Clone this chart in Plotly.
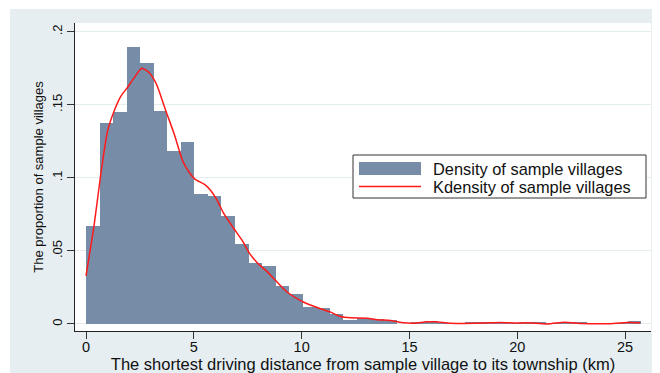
import plotly.graph_objects as go

# ---- data ----
bin_start = 0.0
bin_width = 0.628
density = [0.0669, 0.1376, 0.1452, 0.1895, 0.1788, 0.1460, 0.1183, 0.1246,
           0.0893, 0.0879, 0.0737, 0.0550, 0.0415, 0.0400, 0.0263, 0.0206,
           0.0115, 0.0108, 0.0065, 0.0029, 0.0042, 0.0031, 0.0030, 0.0,
           0.0008, 0.0020, 0.0005, 0.0005, 0.0008, 0.0012, 0.0015, 0.0005,
           0.0015, 0.0010, 0.0003, 0.0015, 0.0012, 0.0003, 0.0003, 0.0005,
           0.0018]

kde_x = [0.0, 0.38, 0.69, 1.0, 1.31, 1.62, 1.93, 2.24, 2.59, 2.93, 3.24, 3.4,
         3.7, 4.09, 4.5, 4.8, 5.05, 5.5, 5.8, 6.05, 6.4, 6.87, 7.25, 7.6, 8.0,
         8.35, 8.8, 9.34, 10.1, 10.88, 11.34, 11.8, 12.27, 13.04, 13.5, 14.12,
         14.74, 15.2, 15.8, 16.2, 16.9, 17.5, 18.5, 19.2, 20.0, 20.5, 21.4,
         22.2, 23.0, 24.3, 25.1, 25.7]
kde_y = [0.033, 0.068, 0.103, 0.132, 0.146, 0.156, 0.162, 0.1686, 0.175, 0.172,
         0.165, 0.159, 0.146, 0.130, 0.111, 0.1035, 0.0992, 0.0955, 0.091,
         0.0855, 0.0753, 0.065, 0.057, 0.048, 0.041, 0.0365, 0.0297, 0.0217,
         0.0149, 0.0104, 0.0081, 0.0051, 0.0042, 0.0040, 0.0029, 0.0024,
         0.0008, 0.0005, 0.0015, 0.0015, 0.0005, 0.0004, 0.0007, 0.0010,
         0.0006, 0.0008, 0.0000, 0.0012, 0.0003, 0.0002, 0.0010, 0.0009]

x_ticks = [0, 5, 10, 15, 20, 25]
y_ticks = [0, 0.05, 0.1, 0.15, 0.2]
y_tick_text = ["0", ".05", ".1", ".15", ".2"]

x_title = "The shortest driving distance from sample village to its township (km)"
y_title = "The proportion of sample villages"
bar_name = "Density of sample villages"
kde_name = "Kdensity of sample villages"

# ---- styling ----
BG = "#e6eef1"
BAR = "#778ca6"
RED = "#ff1a1a"
FONT = "Liberation Sans, Arial, sans-serif"
OFF = 8                      # page body margin of the html page
W, H = 660 - OFF, 373 - OFF
# plot area in page pixels: x 75..651, y 23..331
PL, PR, PT, PB = 75, 651, 23, 331
ML, MR, MT, MB = PL - OFF, W - (PR - OFF), PT - OFF, H - (PB - OFF)
PW, PH = PR - PL, PB - PT


def px(xp):
    return (xp - PL) / PW


def py(yp):
    return (PB - yp) / PH


bin_centers = [bin_start + (i + 0.5) * bin_width for i in range(len(density))]

fig = go.Figure()
fig.add_trace(go.Bar(
    x=bin_centers, y=density, width=bin_width, name=bar_name,
    marker=dict(color=BAR, line=dict(width=0)), showlegend=False,
))
fig.add_trace(go.Scatter(
    x=kde_x, y=kde_y, mode="lines", name=kde_name, showlegend=False,
    line=dict(color=RED, width=1.5, shape="spline", smoothing=0.6),
))

# legend box drawn in paper space
legend_shapes = [
    dict(type="rect", xref="paper", yref="paper",
         x0=px(353), x1=px(646), y0=py(198), y1=py(155),
         fillcolor="white", line=dict(color="#333333", width=1)),
    dict(type="rect", xref="paper", yref="paper",
         x0=px(359), x1=px(421), y0=py(175), y1=py(162),
         fillcolor=BAR, line=dict(width=0)),
    dict(type="line", xref="paper", yref="paper",
         x0=px(359), x1=px(421), y0=py(186.5), y1=py(186.5),
         line=dict(color=RED, width=1.5)),
]
legend_texts = [
    dict(text=bar_name, xref="paper", yref="paper", x=px(431), y=py(169),
         xanchor="left", yanchor="middle", showarrow=False,
         font=dict(size=16.4, family=FONT, color="#111111")),
    dict(text=kde_name, xref="paper", yref="paper", x=px(431), y=py(187),
         xanchor="left", yanchor="middle", showarrow=False,
         font=dict(size=16.4, family=FONT, color="#111111")),
]

frame_shapes = [
    # thin white strips so the light background starts where it does in the reference
    dict(type="rect", xref="paper", yref="paper", layer="below",
         x0=px(OFF), x1=px(10), y0=py(373), y1=py(OFF),
         fillcolor="white", line=dict(width=0)),
    dict(type="rect", xref="paper", yref="paper", layer="below",
         x0=px(OFF), x1=px(660), y0=py(9), y1=py(OFF),
         fillcolor="white", line=dict(width=0)),
]

fig.update_layout(
    width=W, height=H,
    margin=dict(l=ML, r=MR, t=MT, b=MB, pad=0, autoexpand=False),
    paper_bgcolor=BG, plot_bgcolor="white",
    font=dict(family=FONT, color="#111111"),
    bargap=0,
    showlegend=False,
    xaxis=dict(
        range=[-0.51, 26.2], tickvals=x_ticks, ticks="outside", ticklen=7,
        tickcolor="#333333", showline=True, linecolor="#222222", linewidth=1,
        showgrid=False, zeroline=False, tickfont=dict(size=14.5),
        ticklabelstandoff=-4, automargin=False,
        title=dict(text=x_title, font=dict(size=16.5), standoff=0),
    ),
    yaxis=dict(
        range=[-0.0048, 0.206], tickvals=y_ticks, ticktext=y_tick_text,
        ticks="outside", ticklen=7, tickcolor="#333333", tickangle=-90,
        showline=True, linecolor="#222222", linewidth=1,
        showgrid=True, gridcolor="#e3ecef", gridwidth=1, zeroline=False,
        tickfont=dict(size=13), automargin=False,
        title=dict(text=y_title, font=dict(size=13), standoff=3),
    ),
    shapes=frame_shapes + legend_shapes,
    annotations=legend_texts,
)

fig.write_html("out.html")
